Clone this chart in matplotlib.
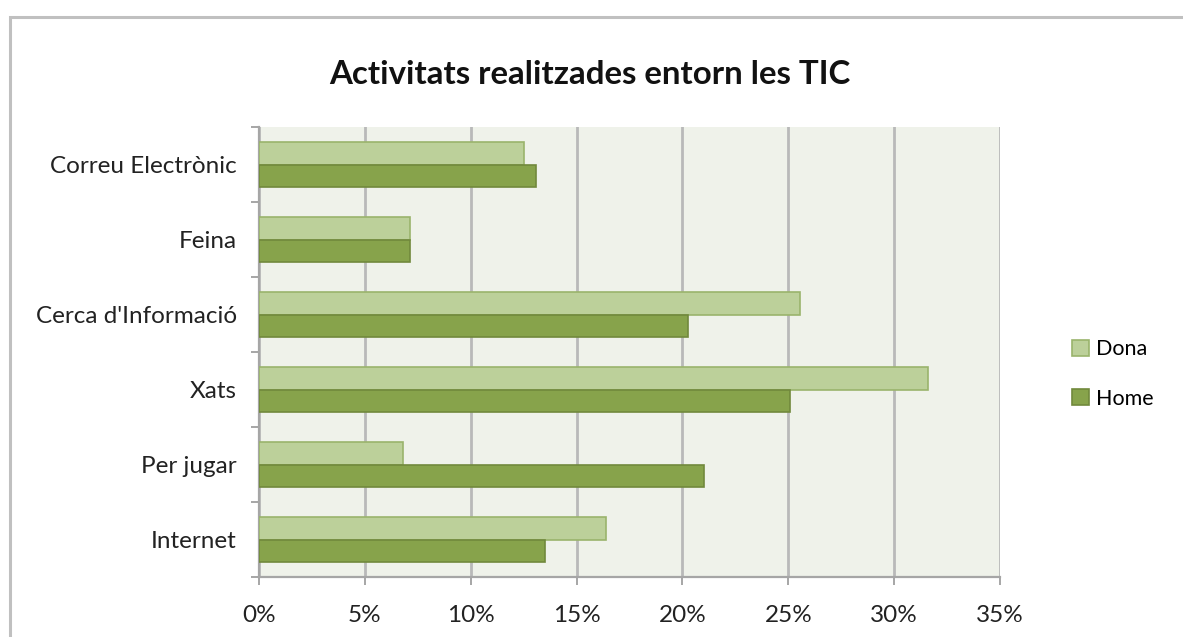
import matplotlib
matplotlib.use("Agg")
import matplotlib.pyplot as plt
import numpy as np
from matplotlib.patches import Rectangle
from matplotlib.ticker import FixedLocator, PercentFormatter

categories = ["Correu Electrònic", "Feina", "Cerca d'Informació", "Xats", "Per jugar", "Internet"]
dona = [12.5, 7.15, 25.55, 31.6, 6.8, 16.4]
home = [13.1, 7.15, 20.25, 25.1, 21.0, 13.5]
xticks = [0, 5, 10, 15, 20, 25, 30, 35]

plt.rcParams['font.family'] = ['Lato', 'DejaVu Sans']

W, H = 1183, 637
fig = plt.figure(figsize=(W/100, H/100), dpi=100)
fig.patch.set_facecolor("white")

# outer frame
fig.patches.append(Rectangle((10/W, -0.1), 1.2, (H-17)/H + 0.1, transform=fig.transFigure,
                             fill=False, edgecolor="#c0c0c0", linewidth=2.2, zorder=0))

ax = fig.add_axes([259/W, 1-577/H, (1000-259)/W, (577-127)/H])
ax.set_facecolor("#eff2ea")

n = len(categories)
pos = np.arange(n)[::-1]  # top to bottom
h = 0.3
ax.barh(pos + h/2, dona, height=h, color="#bcd09a", edgecolor="#9ab46c", linewidth=1.2, label="Dona", zorder=3)
ax.barh(pos - h/2, home, height=h, color="#87a34b", edgecolor="#71893c", linewidth=1.2, label="Home", zorder=3)

ax.set_xlim(0, 35)
ax.set_ylim(-0.5, n - 0.5)
ax.set_xticks(xticks)
ax.xaxis.set_major_formatter(PercentFormatter(decimals=0))
ax.set_yticks(pos)
ax.set_yticklabels(categories)
ax.yaxis.set_minor_locator(FixedLocator(np.arange(-0.5, n, 1.0)))

ax.grid(axis="x", color="#b9b9b9", linewidth=2.0, zorder=1)
ax.set_axisbelow(True)

for s in ["top", "right"]:
    ax.spines[s].set_visible(False)
for s in ["left", "bottom"]:
    ax.spines[s].set_color("#a6a6a6")
    ax.spines[s].set_linewidth(1.6)

ax.tick_params(axis="y", which="major", length=0, pad=16, labelsize=17.5, labelcolor="#222222")
ax.tick_params(axis="y", which="minor", length=6, width=1.4, color="#a6a6a6", direction="out")
ax.tick_params(axis="x", which="major", length=6, width=1.4, color="#a6a6a6", direction="out",
               pad=14, labelsize=17.5, labelcolor="#222222")

fig.text(590/W, 1-75/H, "Activitats realitzades entorn les TIC", ha="center", va="center",
         fontsize=23.8, fontweight="bold", color="#111111")

leg = ax.legend(loc="center left", bbox_to_anchor=(1053/W, 1-374/H), bbox_transform=fig.transFigure,
                frameon=False, fontsize=15.5, handlelength=0.75, handleheight=0.75,
                handletextpad=0.35, labelspacing=1.35)

fig.savefig("out.png", dpi=100, facecolor="white")
